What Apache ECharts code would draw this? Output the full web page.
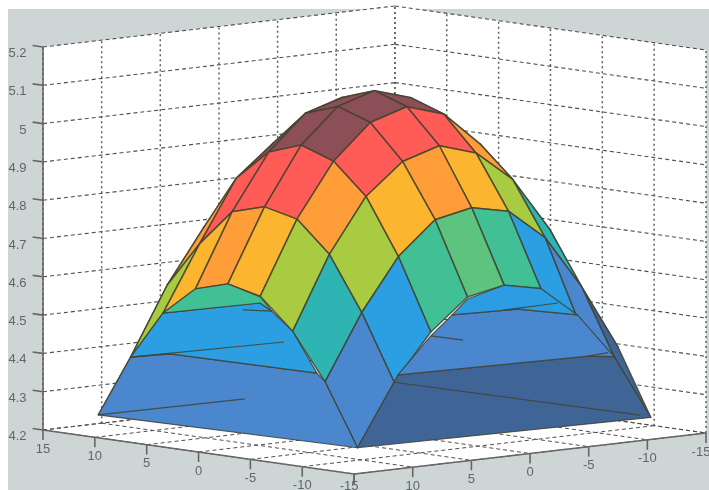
<!DOCTYPE html>
<html><head><meta charset="utf-8">
<style>html,body{margin:0;padding:0;background:#fff}#c{width:709px;height:490px}</style>
<script src="https://cdn.jsdelivr.net/npm/echarts@6/dist/echarts.min.js"></script>
</head><body><div id="c"></div>
<script>
// ---------- data ----------
const uValues = [-12.5,-9.375,-6.25,-3.125,0,3.125,6.25,9.375,12.5];
const vValues = [-12.5,-9.375,-6.25,-3.125,0,3.125,6.25,9.375,12.5];
// zValues[u index][v index]
const zValues = [
 [4.24,4.41,4.52,4.61,4.63,4.61,4.53,4.41,4.25],
 [4.41,4.58,4.72,4.80,4.82,4.80,4.715,4.58,4.41],
 [4.53,4.72,4.86,4.94,4.97,4.94,4.86,4.72,4.53],
 [4.61,4.80,4.94,5.03,5.06,5.03,4.94,4.80,4.61],
 [4.63,4.82,4.97,5.06,5.09,5.06,4.97,4.82,4.63],
 [4.61,4.80,4.94,5.03,5.06,5.03,4.94,4.795,4.605],
 [4.53,4.72,4.86,4.94,4.97,4.94,4.86,4.70,4.53],
 [4.41,4.58,4.72,4.80,4.82,4.80,4.72,4.58,4.403],
 [4.25,4.41,4.53,4.61,4.63,4.61,4.53,4.40,4.24]
];
const zTicks = [4.2,4.3,4.4,4.5,4.6,4.7,4.8,4.9,5,5.1,5.2];
const uTicks = [15,10,5,0,-5,-10,-15];
const vTicks = [-15,-10,-5,0,5,10,15];
const vTickLabels = ['-15','-10','-5','0','5','10',''];
// lower sheets under the two front arches: [position along the edge, z]
const frontSheetV = [
 {fill:'#4a87cc',pts:[[12.5,4.24],[9.375,4.403],[5.58,4.426],[-8.59,4.43],[-9.375,4.41],[-12.5,4.25]]},
 {fill:'#2c9ee2',pts:[[9.375,4.403],[6.25,4.53],[-3.1,4.592],[-4.25,4.575],[-6.25,4.53],[-8.59,4.43],[5.58,4.426]]},
 {fill:'#41bf95',pts:[[6.25,4.53],[3.125,4.605],[0,4.63],[-3.125,4.608],[-4.25,4.575],[-3.1,4.592]]}
];
const frontSheetU = [
 {fill:'#3f6597',pts:[[12.5,4.25],[9.375,4.41],[9.05,4.428],[-7.17,4.419],[-9.375,4.41],[-12.5,4.24]]},
 {fill:'#4a87cf',pts:[[9.05,4.428],[6.25,4.52],[4.44,4.568],[-1.19,4.563],[-6.25,4.53],[-9.375,4.41],[-7.17,4.419]]},
 {fill:'#2c9de2',pts:[[4.44,4.568],[3.125,4.605],[0,4.63],[-3.125,4.61],[-6.25,4.53],[-1.19,4.563]]}
];
const stubsV = [[[12.5,4.24],[-1.65,4.336]],[[9.375,4.403],[-5.41,4.499]],[[-1.46,4.568],[-4.25,4.575]]];
const stubsU = [[[0.09,4.565],[-4.6,4.567]],[[6.25,4.52],[3.5,4.499]],[[9.375,4.41],[-11.6,4.249]],[[-7.17,4.419],[-8.86,4.422]]];
const colorBands = [[4.3,'#3f6597'],[4.45,'#4a87cf'],[4.55,'#2c9ee2'],[4.59,'#2fb4b4'],[4.62,'#41bf95'],[4.68,'#5cc47e'],[4.76,'#a9cb42'],[4.81,'#fbb52e'],[4.9,'#ff9d38'],[5.0,'#ff5c58'],[9,'#8c4e57']];

// ---------- orthographic view ----------
const view = {ox:374.5,oy:431.5,ux:-10.37,uy:-1.467,vx:-11.73,vy:1.367,zs:-383,z0:4.2};
const project = (u,v,z) => [view.ox+view.ux*u+view.vx*v, view.oy+view.uy*u+view.vy*v+view.zs*(z-view.z0)];
const colorOf = z => colorBands.find(b => z < b[0])[1];
const edge = 'rgba(66,66,48,0.85)';

// ---------- scene ----------
const walls = [
 {fill:'#ffffff',pts:[[15,15,4.2],[15,-15,4.2],[15,-15,5.2],[15,15,5.2]]},
 {fill:'#ffffff',pts:[[15,-15,4.2],[-15,-15,4.2],[-15,-15,5.2],[15,-15,5.2]]},
 {fill:'#ffffff',pts:[[15,15,4.2],[-15,15,4.2],[-15,-15,4.2],[15,-15,4.2]]}
];
const zLines = [], postLines = [], floorLines = [];
zTicks.forEach(z => zLines.push([[15,15,z],[15,-15,z]],[[15,-15,z],[-15,-15,z]]));
vTicks.forEach(v => { postLines.push([[15,v,4.2],[15,v,5.2]]); floorLines.push([[15,v,4.2],[-15,v,4.2]]); });
uTicks.forEach(u => { postLines.push([[u,-15,4.2],[u,-15,5.2]]); floorLines.push([[u,15,4.2],[u,-15,4.2]]); });

const cells = [];
for (let i=0;i<uValues.length-1;i++) for (let j=0;j<vValues.length-1;j++) {
  cells.push({
    pts:[[uValues[i],vValues[j],zValues[i][j]],[uValues[i+1],vValues[j],zValues[i+1][j]],
         [uValues[i+1],vValues[j+1],zValues[i+1][j+1]],[uValues[i],vValues[j+1],zValues[i][j+1]]],
    fill:colorOf(zValues[i][j]),
    depth:uValues[i]-vValues[j]
  });
}
cells.sort((a,b)=>b.depth-a.depth);
const sheets = frontSheetV.map(s=>({fill:s.fill,pts:s.pts.map(p=>[p[0],12.5,p[1]])}))
  .concat(frontSheetU.map(s=>({fill:s.fill,pts:s.pts.map(p=>[-12.5,p[0],p[1]])})));
const stubs = stubsV.map(s=>s.map(p=>[p[0],12.5,p[1]])).concat(stubsU.map(s=>s.map(p=>[-12.5,p[0],p[1]])));

const axisLines = [[[15,15,4.2],[15,15,5.2]],[[15,15,4.2],[-15,15,4.2]],[[-15,15,4.2],[-15,-15,4.2]]];
zTicks.forEach(z => axisLines.push([[15,15,z],[16,15,z]]));
uTicks.forEach(u => axisLines.push([[u,15,4.2],[u,15,4.174]]));
vTicks.forEach(v => axisLines.push([[-15,v,4.2],[-15,v,4.174]]));

const labels = [];
zTicks.forEach(z => { const p=project(15,15,z); labels.push({t:String(z),x:26.5,y:p[1]+6.5,a:'right'}); });
uTicks.forEach(u => { const p=project(u,15,4.2); labels.push({t:String(u),x:p[0]-(u===-15?5:0),y:Math.min(p[1]+19,486),a:'center'}); });
vTicks.forEach((v,k) => { const p=project(-15,v,4.2); if(vTickLabels[k]) labels.push({t:vTickLabels[k],x:Math.min(p[0],701),y:p[1]+19,a:'center'}); });

// ---------- series helpers ----------
const polySeries = (items, style, z) => ({
  type:'custom', coordinateSystem:'cartesian2d', silent:true, clip:false, z,
  data:items.map((_,k)=>[k]),
  renderItem:(params,api)=>{
    const it=items[params.dataIndex];
    const pts=it.pts.map(p=>api.coord(project(p[0],p[1],p[2])));
    return {type:'polygon',shape:{points:pts},style:Object.assign({},style,{fill:it.fill})};
  }
});
const lineSeries = (items, style, z) => ({
  type:'custom', coordinateSystem:'cartesian2d', silent:true, clip:false, z,
  data:items.map((_,k)=>[k]),
  renderItem:(params,api)=>{
    const pts=items[params.dataIndex].map(p=>api.coord(project(p[0],p[1],p[2])));
    return {type:'polyline',shape:{points:pts},style:Object.assign({fill:null},style)};
  }
});
const textSeries = {
  type:'custom', coordinateSystem:'cartesian2d', silent:true, clip:false, z:19,
  data:labels.map((_,k)=>[k]),
  renderItem:(params,api)=>{
    const l=labels[params.dataIndex], p=api.coord([l.x,l.y]);
    return {type:'text',style:{text:l.t,x:p[0],y:p[1],textAlign:l.a,textVerticalAlign:'middle',
      fill:'#5d6868',font:'13px "Liberation Sans", Arial, sans-serif'}};
  }
};

const chart = echarts.init(document.getElementById('c'),null,{renderer:'canvas'});
chart.setOption({
  animation:false,
  backgroundColor:'#ffffff',
  grid:{left:0,right:0,top:0,bottom:0},
  xAxis:{type:'value',min:0,max:709,show:false},
  yAxis:{type:'value',min:0,max:490,inverse:true,show:false},
  graphic:[{type:'rect',z:0,silent:true,shape:{x:8,y:9,width:701,height:481},style:{fill:'#cdd6d4'}}],
  series:[
    polySeries(walls,{},11),
    lineSeries(floorLines,{stroke:'#4f4f4f',lineWidth:1,lineDash:[4,3]},12),
    lineSeries(zLines,{stroke:'#4f4f4f',lineWidth:1.1,lineDash:[4,3]},12),
    lineSeries(postLines,{stroke:'#5f5f5f',lineWidth:1.5,lineDash:[2,3]},12),
    lineSeries(axisLines,{stroke:'#666',lineWidth:1.6},13),
    polySeries(cells,{stroke:edge,lineWidth:1.5,lineJoin:'round'},14),
    polySeries(sheets,{stroke:edge,lineWidth:1.2,lineJoin:'round'},15),
    lineSeries(stubs,{stroke:edge,lineWidth:1.2},16),
    textSeries
  ]
});
</script></body></html>
